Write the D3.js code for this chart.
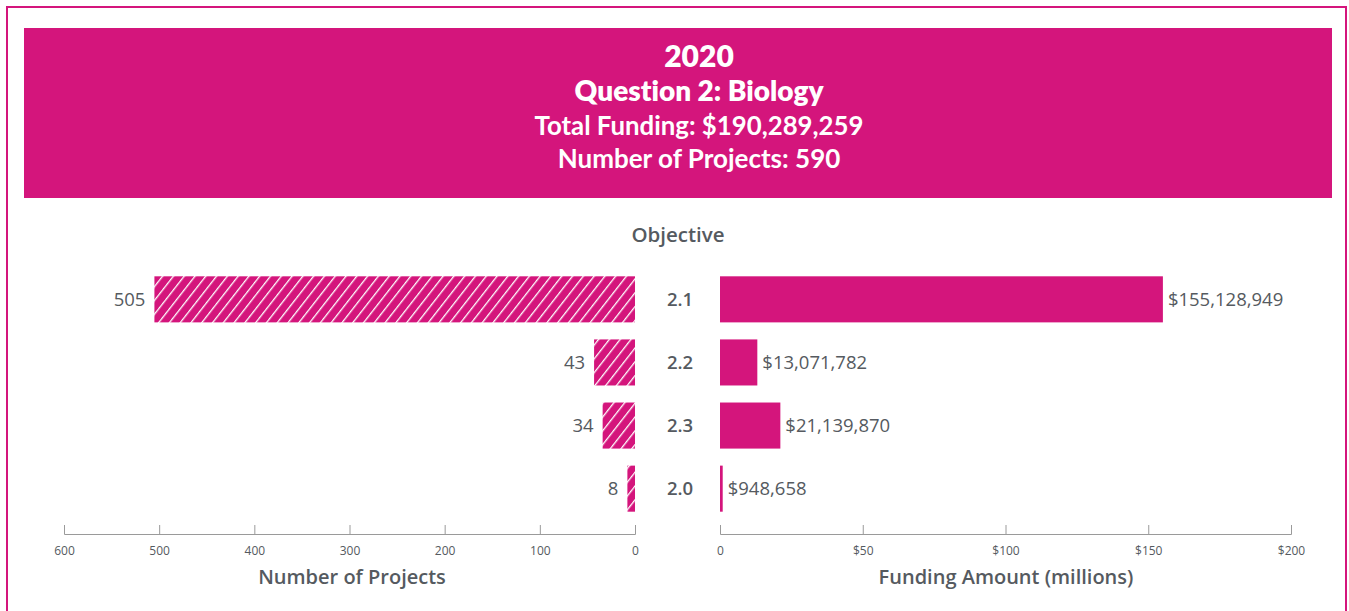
<!DOCTYPE html>
<html><head><meta charset="utf-8">
<script src="https://cdn.jsdelivr.net/npm/d3@7"></script>
<style>body{margin:0;background:#fff;font-family:"Open Sans","Noto Sans",sans-serif;} text{font-variant-ligatures:none;}</style>
</head><body><svg id="c" width="1349" height="611"></svg>
<script>
const categories = ["2.1","2.2","2.3","2.0"];
const projects = [505, 43, 34, 8];
const funding = [155128949, 13071782, 21139870, 948658];
const projectTicks = [600,500,400,300,200,100,0];
const fundingTicks = [0,50,100,150,200];
const titleLines = ["2020","Question 2: Biology","Total Funding: $190,289,259","Number of Projects: 590"];

const pink = "#D4157C", grey = "#555a60", axisGrey = "#9a9a9a";
const svg = d3.select("#c");
const defs = svg.append("defs");
const pat = defs.append("pattern").attr("id","hatch").attr("patternUnits","userSpaceOnUse")
  .attr("width",8.5).attr("height",8.5).attr("patternTransform","rotate(38)");
pat.append("rect").attr("width",8.5).attr("height",8.5).attr("fill",pink);
pat.append("line").attr("x1",0).attr("y1",0).attr("x2",0).attr("y2",8.5).attr("stroke","#fff").attr("stroke-width",2.6);

// outer frame
svg.append("rect").attr("x",7).attr("y",7).attr("width",1339).attr("height",610).attr("fill","none").attr("stroke",pink).attr("stroke-width",2);
// header
svg.append("rect").attr("x",24).attr("y",28).attr("width",1308).attr("height",170).attr("fill",pink);
const tY=[67,101,135,168], tWidth=[74,268,329,283], tW=[800,800,700,700], tMax=[30,28,26,26];
titleLines.forEach((t,i)=>{
  const el = svg.append("text").attr("x",699).attr("y",tY[i]).attr("text-anchor","middle")
    .attr("fill","#fff").attr("font-family","Lato").attr("font-weight",tW[i]).attr("font-size",20).text(t);
  const len = el.node().getComputedTextLength();
  el.attr("font-size", Math.min(tMax[i], 20*tWidth[i]/len));
});

svg.append("text").attr("x",678).attr("y",242).attr("text-anchor","middle").attr("fill",grey)
  .attr("font-weight",600).attr("font-size",20.5).text("Objective");

const xL = d3.scaleLinear().domain([600,0]).range([64,635]);
const xR = d3.scaleLinear().domain([0,200]).range([720,1291]);
const y = d3.scaleBand().domain(categories).range([270,518]).paddingInner(0.27).paddingOuter(0.1);

categories.forEach((c,i)=>{
  const yy=y(c), h=y.bandwidth();
  svg.append("rect").attr("x",xL(projects[i])).attr("y",yy).attr("width",xL(0)-xL(projects[i])).attr("height",h).attr("fill","url(#hatch)");
  svg.append("text").attr("x",xL(projects[i])-9).attr("y",yy+h/2).attr("dy","0.35em").attr("text-anchor","end")
    .attr("fill",grey).attr("font-size",18.5).text(projects[i]);
  svg.append("text").attr("x",680).attr("y",yy+h/2).attr("dy","0.35em").attr("text-anchor","middle")
    .attr("fill",grey).attr("font-weight",600).attr("font-size",18.5).text(c);
  const w = Math.max(xR(funding[i]/1e6)-xR(0),2);
  svg.append("rect").attr("x",xR(0)).attr("y",yy).attr("width",w).attr("height",h).attr("fill",pink);
  svg.append("text").attr("x",xR(0)+w+5).attr("y",yy+h/2).attr("dy","0.35em").attr("fill",grey)
    .attr("font-size",18.5).text("$"+d3.format(",")(funding[i]));
});

const axY=534;
function styleAxis(g){
  g.select(".domain").attr("stroke",axisGrey);
  g.selectAll(".tick line").attr("stroke",axisGrey);
  g.selectAll(".tick text").attr("fill",grey).attr("font-size",12).attr("dy","0").attr("y",21).attr("font-family","Open Sans");
}
svg.append("g").attr("transform",`translate(0,${axY})`)
  .call(d3.axisTop(xL).tickValues(projectTicks).tickSize(9).tickSizeOuter(9).tickFormat(d3.format("d")))
  .call(styleAxis);
svg.append("g").attr("transform",`translate(0,${axY})`)
  .call(d3.axisTop(xR).tickValues(fundingTicks).tickSize(9).tickSizeOuter(9).tickFormat(d=>d===0?"0":"$"+d))
  .call(styleAxis);
svg.append("text").attr("x",352).attr("y",584).attr("text-anchor","middle").attr("fill",grey)
  .attr("font-weight",600).attr("font-size",20).text("Number of Projects");
svg.append("text").attr("x",1006).attr("y",584).attr("text-anchor","middle").attr("fill",grey)
  .attr("font-weight",600).attr("font-size",20).text("Funding Amount (millions)");
</script></body></html>
